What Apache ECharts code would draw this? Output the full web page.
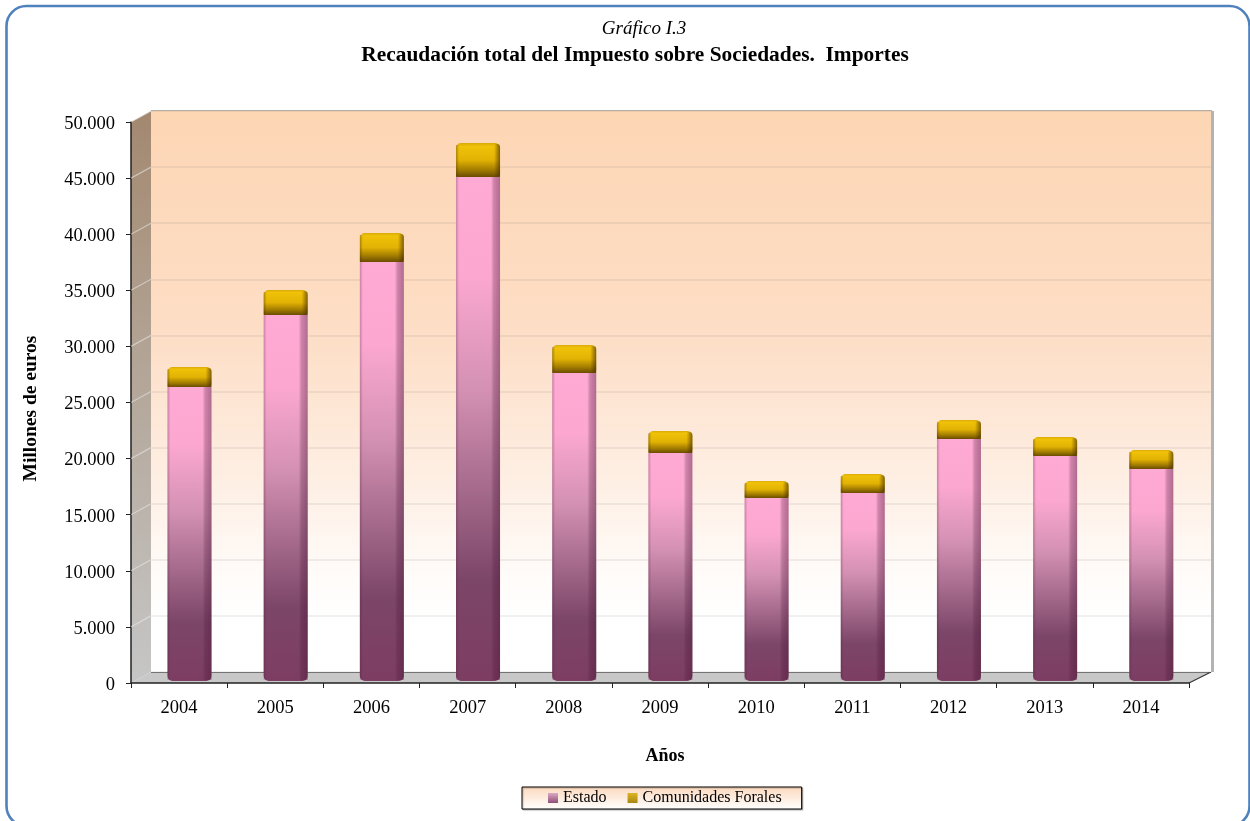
<!DOCTYPE html>
<html><head><meta charset="utf-8">
<style>html,body{margin:0;padding:0;background:#fff;overflow:hidden}#c{width:1250px;height:821px}</style>
<script src="https://cdn.jsdelivr.net/npm/echarts@6/dist/echarts.min.js"></script>
</head><body><div id="c"></div>
<script>
const categories = ['2004','2005','2006','2007','2008','2009','2010','2011','2012','2013','2014'];
const estado = [26200,32620,37350,44920,27450,20320,16310,16760,21570,20050,18900];
const comunidades = [1780,2230,2580,3030,2500,1960,1520,1690,1690,1690,1690];
const yTicks = [0,5000,10000,15000,20000,25000,30000,35000,40000,45000,50000];
const FONT = '"Liberation Serif","Times New Roman",serif';
const lg = (x,y,x2,y2,stops)=>new echarts.graphic.LinearGradient(x,y,x2,y2,stops.map(s=>({offset:s[0],color:s[1]})));
const fmt = v => String(v).replace(/\B(?=(\d{3})+$)/g,'.');
const chart = echarts.init(document.getElementById('c'),null,{renderer:'canvas'});

const estadoFill = lg(0,0,0,1,[[0,'#ffaad4'],[0.2,'#fba7d0'],[0.42,'#d491b3'],[0.62,'#a56a8c'],[0.8,'#7c4668'],[1,'#7d3d62']]);
const goldFill = lg(0,0,0,1,[[0,'#d8aa08'],[0.1,'#f0c208'],[0.5,'#e2b204'],[0.8,'#a07a00'],[1,'#6a4c00']]);

function renderShade(params,api){
  const i = api.value(0);
  const b = api.coord([i,0]), m = api.coord([i,estado[i]]), t = api.coord([i,estado[i]+comunidades[i]]);
  const hw = 22, x = b[0]-hw, r = b[0]+hw;
  return {type:'group',silent:true,children:[
    {type:'rect',shape:{x:r-9,y:m[1],width:9,height:b[1]-m[1]-1},style:{fill:lg(0,0,1,0,[[0,'rgba(70,20,50,0)'],[0.3,'rgba(70,20,50,0.25)'],[1,'rgba(70,20,50,0.42)']])}},
    {type:'rect',shape:{x:x,y:m[1],width:3,height:b[1]-m[1]-1},style:{fill:lg(0,0,1,0,[[0,'rgba(70,20,50,0.28)'],[1,'rgba(70,20,50,0)']])}},
    {type:'rect',shape:{x:r-6,y:t[1]+1,width:6,height:m[1]-t[1]-1,r:[3,3,3,0]},style:{fill:lg(0,0,1,0,[[0,'rgba(70,45,0,0)'],[1,'rgba(70,45,0,0.65)'] ])}},
    {type:'rect',shape:{x:x,y:t[1]+2,width:3,height:m[1]-t[1]-3},style:{fill:lg(0,0,1,0,[[0,'rgba(70,45,0,0.4)'],[1,'rgba(70,45,0,0)']])}}
  ]};
}
function renderWallLine(params,api){
  const p = api.coord([0,api.value(0)]);
  const x0 = params.coordSys.x;
  return {type:'line',silent:true,shape:{x1:x0,y1:p[1],x2:x0+20,y2:p[1]-11},style:{stroke:'rgba(235,235,235,0.55)',lineWidth:1.2}};
}

chart.setOption({
  animation:false,
  backgroundColor:'#ffffff',
  textStyle:{fontFamily:FONT},
  title:[
    {text:'Gráfico I.3',left:639,top:14,textAlign:'center',textStyle:{fontFamily:FONT,fontSize:19,fontWeight:'normal',fontStyle:'italic',color:'#000'}},
    {text:'Recaudación total del Impuesto sobre Sociedades.  Importes',left:630,top:40,textAlign:'center',textStyle:{fontFamily:FONT,fontSize:21.4,fontWeight:'bold',color:'#000'}}
  ],
  legend:{
    data:[
      {name:'Estado',itemStyle:{color:lg(0,0,0,1,[[0,'#d9a9c4'],[0.5,'#b77a9c'],[1,'#8f5078']])}},
      {name:'Comunidades Forales',itemStyle:{color:lg(0,0,0,1,[[0,'#dcb520'],[1,'#a88612']])}}
    ],
    icon:'rect',
    left:522,top:787,orient:'horizontal',itemWidth:10,itemHeight:10,itemGap:21,
    padding:[3,20,3,26],
    backgroundColor:lg(0,0,0,1,[[0,'#fcd9bd'],[1,'#ffffff']]),
    borderColor:'#000',borderWidth:1,
    shadowColor:'rgba(0,0,0,0.25)',shadowBlur:1,shadowOffsetX:1,shadowOffsetY:1,
    textStyle:{fontFamily:FONT,fontSize:16,color:'#000'},
    selectedMode:false
  },
  graphic:[
    {type:'rect',z:100,silent:true,shape:{x:6.5,y:6,width:1243,height:820,r:20},style:{fill:null,stroke:'#4f81bd',lineWidth:2.6}},
    {type:'polygon',z:-5,silent:true,shape:{points:[[131,122],[151,111],[151,672],[131,683]]},style:{fill:lg(0,0,0,1,[[0,'#a3886f'],[0.45,'#b3a597'],[1,'#c6c6c6']])}},
    {type:'polygon',z:-5,silent:true,shape:{points:[[131,683],[151,672],[1211,672],[1189,683]]},style:{fill:'#c8c8c8'}},
    {type:'line',z:-4,silent:true,shape:{x1:151,y1:672,x2:1211,y2:672},style:{stroke:'#5a5a5a',lineWidth:1.5}},
    {type:'line',z:-4,silent:true,shape:{x1:1189,y1:683,x2:1211,y2:672},style:{stroke:'#333',lineWidth:1.2}},
    {type:'line',z:-4,silent:true,shape:{x1:151,y1:111,x2:1212,y2:111},style:{stroke:'#b9b4ae',lineWidth:2}},
    {type:'line',z:-4,silent:true,shape:{x1:1212.5,y1:111,x2:1212.5,y2:672},style:{stroke:'#b3b3b3',lineWidth:3}}
  ],
  grid:[
    {left:131,right:61,top:122,bottom:138,outerBoundsMode:'none'},
    {left:151,right:39,top:111,bottom:149,show:true,borderWidth:0,outerBoundsMode:'none',
      backgroundColor:lg(0,0,0,1,[[0,'#fdd6b4'],[0.4,'#fddec6'],[0.68,'#fef0e6'],[0.82,'#fffbf8'],[0.9,'#ffffff'],[1,'#ffffff']])},
    {left:141.4,right:50.6,top:120,bottom:140,outerBoundsMode:'none'},
    {left:131,right:61,top:124,bottom:136,outerBoundsMode:'none'}
  ],
  xAxis:[
    {gridIndex:0,type:'category',data:categories,
      axisLine:{lineStyle:{color:'#222',width:1.5}},axisTick:{show:true,length:5,alignWithLabel:false,lineStyle:{color:'#222'}},
      axisLabel:{fontFamily:FONT,fontSize:18.5,color:'#000',margin:16},
      name:'Años',nameLocation:'middle',nameGap:64,nameTextStyle:{fontFamily:FONT,fontSize:18,fontWeight:'bold',color:'#000',padding:[0,0,0,10]}},
    {gridIndex:1,type:'category',data:categories,axisLine:{show:false},axisTick:{show:false},axisLabel:{show:false}},
    {gridIndex:2,type:'category',data:categories,axisLine:{show:false},axisTick:{show:false},axisLabel:{show:false}},
    {gridIndex:3,type:'category',data:categories,axisLine:{show:false},axisTick:{show:false},axisLabel:{show:false}}
  ],
  yAxis:[
    {gridIndex:0,type:'value',min:0,max:50000,interval:5000,
      axisLine:{show:true,lineStyle:{color:'#222',width:1.5}},axisTick:{show:true,length:5,lineStyle:{color:'#222'}},
      axisLabel:{show:false},splitLine:{show:false},
      name:'Millones de euros',nameLocation:'middle',nameGap:72,nameRotate:90,nameTextStyle:{fontFamily:FONT,fontSize:19.5,fontWeight:'bold',color:'#000',padding:[0,12,18,0]}},
    {gridIndex:1,type:'value',min:0,max:50000,interval:5000,axisLine:{show:false},axisTick:{show:false},axisLabel:{show:false},
      splitLine:{show:true,lineStyle:{color:'rgba(120,120,120,0.14)',width:1.5}}},
    {gridIndex:2,type:'value',min:0,max:50000,interval:5000,axisLine:{show:false},axisTick:{show:false},axisLabel:{show:false},splitLine:{show:false}},
    {gridIndex:3,type:'value',min:0,max:50000,interval:5000,axisLine:{show:false},axisTick:{show:false},splitLine:{show:false},
      axisLabel:{fontFamily:FONT,fontSize:18.5,color:'#000',margin:16,formatter:v=>fmt(v)}}
  ],
  series:[
    {name:'wallLines',type:'custom',xAxisIndex:0,yAxisIndex:0,silent:true,z:1,data:yTicks.slice(1).map(v=>[v]),encode:{y:0},renderItem:renderWallLine},
    {name:'Estado',type:'bar',xAxisIndex:2,yAxisIndex:2,stack:'total',barWidth:44,data:estado,
      itemStyle:{color:estadoFill,borderRadius:[0,0,5,5]}},
    {name:'Comunidades Forales',type:'bar',xAxisIndex:2,yAxisIndex:2,stack:'total',barWidth:44,data:comunidades,
      itemStyle:{color:goldFill,borderRadius:[5,5,0,0]}},
    {name:'shade',type:'custom',xAxisIndex:2,yAxisIndex:2,silent:true,z:5,data:categories.map((c,i)=>[i]),encode:{x:0},renderItem:renderShade}
  ]
});
</script></body></html>
